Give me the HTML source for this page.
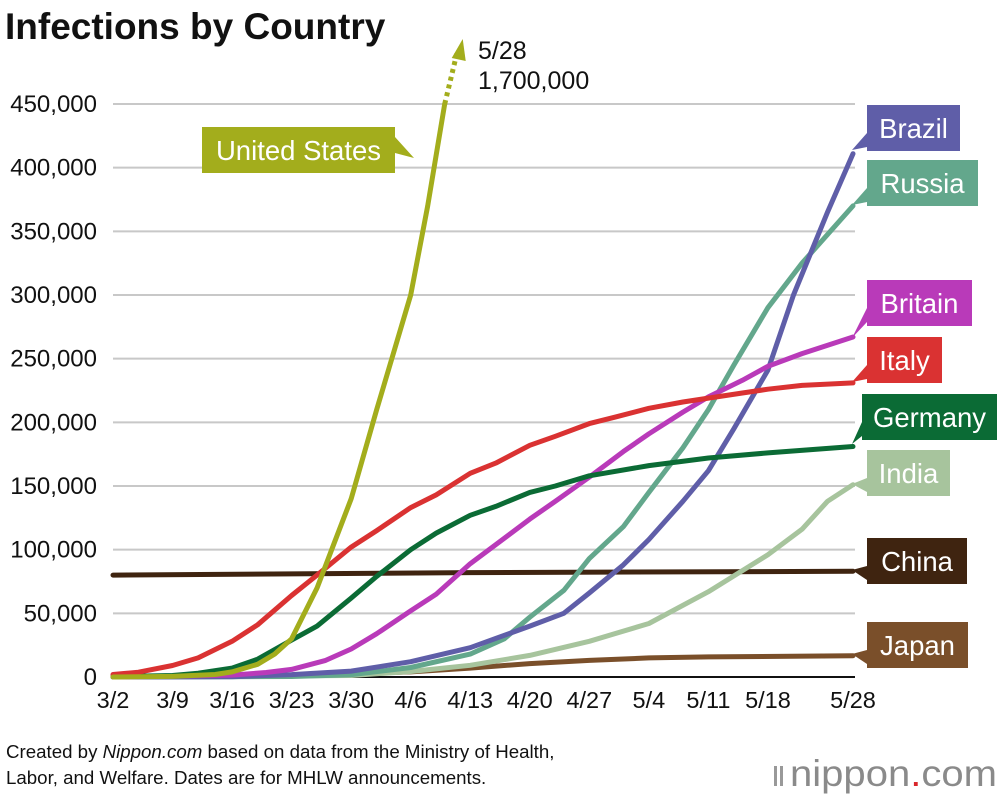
<!DOCTYPE html>
<html><head><meta charset="utf-8">
<style>
body{margin:0;background:#fff;width:1000px;height:798px;overflow:hidden;font-family:"Liberation Sans",sans-serif;}
svg{position:absolute;left:0;top:0}
</style></head>
<body>
<svg id="chart" width="1000" height="798">
<text x="5" y="39" font-size="37" font-weight="bold" fill="#111">Infections by Country</text>
<g id="grid"></g><g id="lines"></g><g id="labels"></g>
<text x="6" y="758" font-size="18.7" fill="#111">Created by <tspan font-style="italic">Nippon.com</tspan> based on data from the Ministry of Health,</text>
<text x="6" y="784" font-size="18.7" fill="#111">Labor, and Welfare. Dates are for MHLW announcements.</text>
<g>
<rect x="774" y="766" width="3" height="20" fill="#999"/><rect x="780" y="766" width="3" height="20" fill="#999"/>
<text x="790" y="786" font-size="37" fill="#8a8a8a" textLength="207" lengthAdjust="spacingAndGlyphs">nippon<tspan fill="#d9262b">.</tspan>com</text>
</g>
</svg>
<script>
const tickLabels=["3/2","3/9","3/16","3/23","3/30","4/6","4/13","4/20","4/27","5/4","5/11","5/18","5/28"];
const yTicks=[0,50000,100000,150000,200000,250000,300000,350000,400000,450000];
const usDates=["3/2","3/9","3/14","3/16","3/19","3/21","3/23","3/26","3/28","3/30","4/2","4/4","4/6","4/8","4/10"];
const usVals=[0,0.5,2,4,10,18,30,70,105,140,210,255,300,370,450];
const italyDates=["3/2","3/5","3/9","3/12","3/16","3/19","3/23","3/26","3/30","4/2","4/6","4/9","4/13","4/16","4/20","4/23","4/27","4/30","5/4","5/8","5/11","5/15","5/18","5/22","5/28"];
const italyVals=[2,3.8,9,15,28,41,64,80,102,115,133,143,160,168,182,189,199,204,211,216,219,223,226,229,231];
const germanyDates=["3/2","3/9","3/12","3/16","3/19","3/23","3/26","3/30","4/2","4/6","4/9","4/13","4/16","4/20","4/23","4/27","5/4","5/11","5/18","5/28"];
const germanyVals=[0.2,1.2,3,7,14,29,40,62,79,100,113,127,134,145,150,158,166,172,176,181];
const britainDates=["3/2","3/16","3/20","3/23","3/27","3/30","4/2","4/6","4/9","4/13","4/16","4/20","4/23","4/27","5/1","5/4","5/8","5/11","5/15","5/18","5/22","5/28"];
const britainVals=[0,1.5,3.5,6,13,22,34,52,65,89,104,124,138,157,177,191,208,220,233,244,254,267];
const brazilDates=["3/2","3/16","3/23","3/30","4/6","4/13","4/20","4/24","4/27","5/1","5/4","5/8","5/11","5/14","5/18","5/21","5/25","5/28"];
const brazilVals=[0,0.2,1.9,4.6,12,23,40,50,66,88,108,138,162,195,241,300,365,411];
const russiaDates=["3/2","3/23","3/30","4/6","4/13","4/17","4/20","4/24","4/27","5/1","5/4","5/8","5/11","5/14","5/18","5/22","5/28"];
const russiaVals=[0,0.4,1.8,7.5,18,30,47,68,93,118,145,180,210,245,290,325,370];
const indiaDates=["3/2","3/30","4/6","4/13","4/20","4/27","5/4","5/11","5/18","5/22","5/25","5/28"];
const indiaVals=[0,1.2,4.3,9.2,17,28,42,67,96,116,138,151];
const chinaDates=["3/2","4/13","5/28"];
const chinaVals=[80,82,83];
const japanDates=["3/2","3/23","4/6","4/13","4/20","4/27","5/4","5/11","5/28"];
const japanVals=[0.3,1.1,4,7,10.5,13,15,15.8,16.7];

const NS="http://www.w3.org/2000/svg";
function day(s){const [m,d]=s.split("/").map(Number);return m===3?d-2:m===4?29+d:59+d;}
function X(s){return 113+day(s)*740/87;}
function Y(v){return 677-v*573/450000;}
function mk(tag,attrs,parent){const e=document.createElementNS(NS,tag);for(const k in attrs)e.setAttribute(k,attrs[k]);parent.appendChild(e);return e;}
const grid=document.getElementById('grid'),lines=document.getElementById('lines'),labels=document.getElementById('labels');
yTicks.forEach(v=>{
  if(v>0){const l=mk('line',{x1:113,x2:855,y1:Y(v),y2:Y(v),stroke:'#c8c8c8','stroke-width':2},grid);
  
  }
  const t=mk('text',{x:97,y:Y(v)+8,'font-size':24,'text-anchor':'end',fill:'#111'},grid);
  t.textContent=v.toLocaleString('en-US');
  
  
});
const base=mk('line',{x1:113,x2:855,y1:Y(0),y2:Y(0),stroke:'#111','stroke-width':2},grid);


tickLabels.forEach(s=>{
  const t=mk('text',{x:X(s),y:708,'font-size':23.5,'text-anchor':'middle',fill:'#111'},grid);
  t.textContent=s;
  
  
});
const series=[
 ['japan',japanDates,japanVals,'#7a4f2a'],
 ['china',chinaDates,chinaVals,'#3f2410'],
 ['india',indiaDates,indiaVals,'#a7c49d'],
 ['russia',russiaDates,russiaVals,'#63a78c'],
 ['brazil',brazilDates,brazilVals,'#5f5ea8'],
 ['britain',britainDates,britainVals,'#b93ab9'],
 ['germany',germanyDates,germanyVals,'#0b6b35'],
 ['italy',italyDates,italyVals,'#da3232'],
 ['us',usDates,usVals,'#a3ad1c']];
series.forEach(([n,d,v,c])=>{
  const p=d.map((s,i)=>X(s).toFixed(1)+','+Y(v[i]*1000).toFixed(1)).join(' ');
  const pl=mk('polyline',{points:p,fill:'none',stroke:c,'stroke-width':5,'stroke-linejoin':'round','stroke-linecap':'round'},lines);
  
  
});
const lx=X(usDates[usDates.length-1]),ly=Y(usVals[usVals.length-1]*1000);
const dl=mk('line',{x1:lx,y1:ly,x2:lx+12,y2:ly-50,stroke:'#a3ad1c','stroke-width':5,'stroke-dasharray':'4 4'},lines);


const ah=mk('polygon',{points:`${lx+18},${ly-65} ${lx+7},${ly-46} ${lx+21},${ly-43}`,fill:'#a3ad1c'},lines);


const a1=mk('text',{x:478,y:59,'font-size':25,fill:'#111'},labels);a1.textContent='5/28';


const a2=mk('text',{x:478,y:89,'font-size':25,fill:'#111'},labels);a2.textContent='1,700,000';


const boxes=[
 ['Brazil',867,105,93,'#5f5ea8',852,150],
 ['Russia',867,160,111,'#63a78c',852,205],
 ['Britain',867,280,105,'#b93ab9',852,338],
 ['Italy',867,337,75,'#da3232',852,382],
 ['Germany',862,394,135,'#0b6b35',852,444],
 ['India',867,450,83,'#a7c49d',852,484],
 ['China',867,538,100,'#3f2410',852,570],
 ['Japan',867,622,101,'#7a4f2a',852,654],
 ['United States',202,127,193,'#a3ad1c',414,158]];
boxes.forEach(([t,x,y,w,c,px,py])=>{
  const g=mk('g',{},labels);
  
  
  const h=46;
  if(px<x) mk('polygon',{points:`${x},${y+h-18} ${x},${y+h-4} ${px},${py}`,fill:c},g);
  else mk('polygon',{points:`${x+w},${y+10} ${x+w},${y+26} ${px},${py}`,fill:c},g);
  mk('rect',{x:x,y:y,width:w,height:h,fill:c},g);
  const tt=mk('text',{x:x+w/2,y:y+33,'font-size':27.5,'text-anchor':'middle',fill:'#fff'},g);
  tt.textContent=t;
});
</script>
</body></html>
